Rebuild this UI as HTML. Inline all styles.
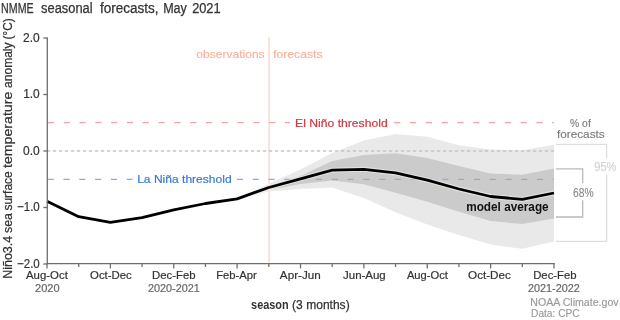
<!DOCTYPE html>
<html><head><meta charset="utf-8"><style>
html,body{margin:0;padding:0;background:#fff;width:620px;height:320px;overflow:hidden}
svg{display:block;will-change:transform}
text{font-family:"Liberation Sans", sans-serif}
</style></head><body>
<svg width="620" height="320" viewBox="0 0 620 320">
<rect width="620" height="320" fill="#fff"/>
<polygon points="237.12,198.90 268.81,183.80 300.50,169.50 332.19,153.00 363.88,140.50 395.56,134.00 427.25,136.70 458.94,145.20 490.62,149.50 522.31,150.30 554.00,144.70 554.00,241.60 522.31,248.80 490.62,244.60 458.94,235.00 427.25,224.50 395.56,212.30 363.88,198.00 332.19,187.60 300.50,189.00 268.81,191.60 237.12,198.90" fill="#e9e9e9"/>
<polygon points="237.12,198.90 268.81,185.60 300.50,176.00 332.19,161.00 363.88,155.00 395.56,153.20 427.25,158.00 458.94,166.10 490.62,173.60 522.31,174.70 554.00,168.50 554.00,218.40 522.31,224.00 490.62,221.00 458.94,211.80 427.25,201.80 395.56,192.80 363.88,184.25 332.19,180.50 300.50,184.00 268.81,189.80 237.12,198.90" fill="#cbcbcb"/>
<line x1="269" y1="37" x2="269" y2="263" stroke="#fde3dc" stroke-width="2"/>
<line x1="47.9" y1="122.5" x2="290" y2="122.5" stroke="#eda3a3" stroke-width="1.25" stroke-dasharray="6.2 9.6"/>
<line x1="394.2" y1="122.5" x2="554" y2="122.5" stroke="#eda3a3" stroke-width="1.25" stroke-dasharray="6.2 9.6"/>
<line x1="46.9" y1="151" x2="554" y2="151" stroke="#c4c4c4" stroke-width="1.4" stroke-dasharray="3.3 2.7"/>
<line x1="47.7" y1="179.4" x2="132.6" y2="179.4" stroke="#86acE0" stroke-width="1.25" stroke-dasharray="6.1 9.7"/>
<line x1="236.9" y1="179.4" x2="554" y2="179.4" stroke="#86acE0" stroke-width="1.25" stroke-dasharray="6.1 9.7"/>
<polyline points="47.00,201.20 78.69,216.70 110.38,222.40 142.06,217.70 173.75,209.80 205.44,203.50 237.12,198.90 268.81,187.50 300.50,178.90 332.19,170.20 363.88,169.30 395.56,172.90 427.25,180.20 458.94,189.00 490.62,196.50 522.31,199.40 554.00,193.00" fill="none" stroke="#fff" stroke-opacity="0.45" stroke-width="5" stroke-linejoin="round"/>
<polyline points="47.00,201.20 78.69,216.70 110.38,222.40 142.06,217.70 173.75,209.80 205.44,203.50 237.12,198.90 268.81,187.50 300.50,178.90 332.19,170.20 363.88,169.30 395.56,172.90 427.25,180.20 458.94,189.00 490.62,196.50 522.31,199.40 554.00,193.00" fill="none" stroke="#000" stroke-width="2.8" stroke-linejoin="round"/>
<g stroke="#6e6e6e" stroke-width="1.3">
<line x1="47.3" y1="37.5" x2="47.3" y2="264"/>
<line x1="46.7" y1="263.6" x2="554.6" y2="263.6"/>
<line x1="47.00" y1="263" x2="47.00" y2="268.5"/><line x1="78.69" y1="263" x2="78.69" y2="267.0"/><line x1="110.38" y1="263" x2="110.38" y2="268.5"/><line x1="142.06" y1="263" x2="142.06" y2="267.0"/><line x1="173.75" y1="263" x2="173.75" y2="268.5"/><line x1="205.44" y1="263" x2="205.44" y2="267.0"/><line x1="237.12" y1="263" x2="237.12" y2="268.5"/><line x1="268.81" y1="263" x2="268.81" y2="267.0"/><line x1="300.50" y1="263" x2="300.50" y2="268.5"/><line x1="332.19" y1="263" x2="332.19" y2="267.0"/><line x1="363.88" y1="263" x2="363.88" y2="268.5"/><line x1="395.56" y1="263" x2="395.56" y2="267.0"/><line x1="427.25" y1="263" x2="427.25" y2="268.5"/><line x1="458.94" y1="263" x2="458.94" y2="267.0"/><line x1="490.62" y1="263" x2="490.62" y2="268.5"/><line x1="522.31" y1="263" x2="522.31" y2="267.0"/><line x1="554.00" y1="263" x2="554.00" y2="268.5"/>
<line x1="43.3" y1="38.00" x2="47.5" y2="38.00"/><line x1="43.3" y1="94.50" x2="47.5" y2="94.50"/><line x1="43.3" y1="151.00" x2="47.5" y2="151.00"/><line x1="43.3" y1="207.50" x2="47.5" y2="207.50"/><line x1="43.3" y1="264.00" x2="47.5" y2="264.00"/>
</g>
<polyline points="556,144.4 606.6,144.4 606.6,158" fill="none" stroke="#dedede" stroke-width="1.3"/>
<polyline points="606.6,174.5 606.6,241.3 556,241.3" fill="none" stroke="#dedede" stroke-width="1.3"/>
<polyline points="556,168.8 582.7,168.8 582.7,183" fill="none" stroke="#b9b9b9" stroke-width="1.3"/>
<polyline points="582.7,200.3 582.7,217 556,217" fill="none" stroke="#b9b9b9" stroke-width="1.3"/>
<text x="1.12" y="13.2" font-size="14" font-weight="normal" fill="#333" stroke="#333" stroke-width="0.25" textLength="32.52" lengthAdjust="spacingAndGlyphs">NMME</text>
<text x="41.12" y="13.2" font-size="14" font-weight="normal" fill="#333" stroke="#333" stroke-width="0.25" textLength="51.50" lengthAdjust="spacingAndGlyphs">seasonal</text>
<text x="99.94" y="13.2" font-size="14" font-weight="normal" fill="#333" stroke="#333" stroke-width="0.25" textLength="58.66" lengthAdjust="spacingAndGlyphs">forecasts,</text>
<text x="163.14" y="13.2" font-size="14" font-weight="normal" fill="#333" stroke="#333" stroke-width="0.25" textLength="23.68" lengthAdjust="spacingAndGlyphs">May</text>
<text x="192.14" y="13.2" font-size="14" font-weight="normal" fill="#333" stroke="#333" stroke-width="0.25" textLength="28.50" lengthAdjust="spacingAndGlyphs">2021</text>
<text x="23.07" y="41.9" font-size="12.5" font-weight="normal" fill="#333" stroke="#333" stroke-width="0.2" textLength="16.69" lengthAdjust="spacingAndGlyphs">2.0</text>
<text x="23.14" y="97.9" font-size="12.5" font-weight="normal" fill="#333" stroke="#333" stroke-width="0.2" textLength="16.62" lengthAdjust="spacingAndGlyphs">1.0</text>
<text x="23.07" y="154.6" font-size="12.5" font-weight="normal" fill="#333" stroke="#333" stroke-width="0.2" textLength="16.69" lengthAdjust="spacingAndGlyphs">0.0</text>
<text x="17.02" y="210.9" font-size="12.5" font-weight="normal" fill="#333" stroke="#333" stroke-width="0.2" textLength="22.78" lengthAdjust="spacingAndGlyphs">−1.0</text>
<text x="17.02" y="267.9" font-size="12.5" font-weight="normal" fill="#333" stroke="#333" stroke-width="0.2" textLength="22.78" lengthAdjust="spacingAndGlyphs">−2.0</text>
<text x="26.00" y="279" font-size="11.3" font-weight="normal" fill="#333" stroke="#333" stroke-width="0.2" textLength="41.82" lengthAdjust="spacingAndGlyphs">Aug-Oct</text>
<text x="90.04" y="279" font-size="11.3" font-weight="normal" fill="#333" stroke="#333" stroke-width="0.2" textLength="41.72" lengthAdjust="spacingAndGlyphs">Oct-Dec</text>
<text x="152.12" y="279" font-size="11.3" font-weight="normal" fill="#333" stroke="#333" stroke-width="0.2" textLength="43.54" lengthAdjust="spacingAndGlyphs">Dec-Feb</text>
<text x="216.18" y="279" font-size="11.3" font-weight="normal" fill="#333" stroke="#333" stroke-width="0.2" textLength="40.66" lengthAdjust="spacingAndGlyphs">Feb-Apr</text>
<text x="279.86" y="279" font-size="11.3" font-weight="normal" fill="#333" stroke="#333" stroke-width="0.2" textLength="40.88" lengthAdjust="spacingAndGlyphs">Apr-Jun</text>
<text x="343.04" y="279" font-size="11.3" font-weight="normal" fill="#333" stroke="#333" stroke-width="0.2" textLength="42.70" lengthAdjust="spacingAndGlyphs">Jun-Aug</text>
<text x="406.92" y="279" font-size="11.3" font-weight="normal" fill="#333" stroke="#333" stroke-width="0.2" textLength="40.92" lengthAdjust="spacingAndGlyphs">Aug-Oct</text>
<text x="468.10" y="279" font-size="11.3" font-weight="normal" fill="#333" stroke="#333" stroke-width="0.2" textLength="42.72" lengthAdjust="spacingAndGlyphs">Oct-Dec</text>
<text x="533.20" y="279" font-size="11.3" font-weight="normal" fill="#333" stroke="#333" stroke-width="0.2" textLength="43.42" lengthAdjust="spacingAndGlyphs">Dec-Feb</text>
<text x="35.06" y="291.7" font-size="11.5" font-weight="normal" fill="#666" stroke="#666" stroke-width="0.2" textLength="24.60" lengthAdjust="spacingAndGlyphs">2020</text>
<text x="147.98" y="292.3" font-size="11.5" font-weight="normal" fill="#666" stroke="#666" stroke-width="0.2" textLength="51.78" lengthAdjust="spacingAndGlyphs">2020-2021</text>
<text x="528.04" y="292.3" font-size="11.5" font-weight="normal" fill="#666" stroke="#666" stroke-width="0.2" textLength="51.76" lengthAdjust="spacingAndGlyphs">2021-2022</text>
<text x="251.08" y="308.7" font-size="12.5" font-weight="bold" fill="#333" textLength="37.58" lengthAdjust="spacingAndGlyphs">season</text>
<text x="292.12" y="308.7" font-size="12.5" font-weight="normal" fill="#333" stroke="#333" stroke-width="0.25" textLength="57.54" lengthAdjust="spacingAndGlyphs">(3 months)</text>
<text x="530.22" y="306" font-size="10" font-weight="normal" fill="#999" stroke="#999" stroke-width="0.15" textLength="88.46" lengthAdjust="spacingAndGlyphs">NOAA Climate.gov</text>
<text x="531.06" y="317" font-size="10" font-weight="normal" fill="#999" stroke="#999" stroke-width="0.15" textLength="48.52" lengthAdjust="spacingAndGlyphs">Data: CPC</text>
<text x="196.22" y="58" font-size="11" font-weight="normal" fill="#fbb19a" stroke="#fbb19a" stroke-width="0.15" textLength="68.42" lengthAdjust="spacingAndGlyphs">observations</text>
<text x="273.10" y="58.1" font-size="11" font-weight="normal" fill="#fbb19a" stroke="#fbb19a" stroke-width="0.15" textLength="49.48" lengthAdjust="spacingAndGlyphs">forecasts</text>
<text x="295.12" y="126.5" font-size="11.5" font-weight="normal" fill="#d2363f" stroke="#d2363f" stroke-width="0.2" textLength="92.56" lengthAdjust="spacingAndGlyphs">El Niño threshold</text>
<text x="137.16" y="183.1" font-size="11.5" font-weight="normal" fill="#3a7bd0" stroke="#3a7bd0" stroke-width="0.2" textLength="94.50" lengthAdjust="spacingAndGlyphs">La Niña threshold</text>
<text x="569.98" y="126.8" font-size="11.5" font-weight="normal" fill="#777" stroke="#777" stroke-width="0.1" textLength="20.82" lengthAdjust="spacingAndGlyphs">% of</text>
<text x="556.96" y="138.4" font-size="11.5" font-weight="normal" fill="#777" stroke="#777" stroke-width="0.1" textLength="47.74" lengthAdjust="spacingAndGlyphs">forecasts</text>
<text x="466.16" y="210.6" font-size="12" font-weight="bold" fill="#111" textLength="82.52" lengthAdjust="spacingAndGlyphs">model average</text>
<text x="594.30" y="171.4" font-size="12" font-weight="normal" fill="#d0d0d0" stroke="#d0d0d0" stroke-width="0.1" textLength="22.16" lengthAdjust="spacingAndGlyphs">95%</text>
<text x="573.12" y="196.9" font-size="12" font-weight="normal" fill="#888" stroke="#888" stroke-width="0.1" textLength="20.56" lengthAdjust="spacingAndGlyphs">68%</text>
<text transform="translate(12,278.80) rotate(-90)" x="0" y="0" font-size="12.5" fill="#333" stroke="#333" stroke-width="0.25" textLength="43.00" lengthAdjust="spacingAndGlyphs">Niño3.4</text>
<text transform="translate(12,233.00) rotate(-90)" x="0" y="0" font-size="12.5" fill="#333" stroke="#333" stroke-width="0.25" textLength="19.90" lengthAdjust="spacingAndGlyphs">sea</text>
<text transform="translate(12,210.60) rotate(-90)" x="0" y="0" font-size="12.5" fill="#333" stroke="#333" stroke-width="0.25" textLength="39.35" lengthAdjust="spacingAndGlyphs">surface</text>
<text transform="translate(12,168.00) rotate(-90)" x="0" y="0" font-size="12.5" fill="#333" stroke="#333" stroke-width="0.25" textLength="76.30" lengthAdjust="spacingAndGlyphs">temperature</text>
<text transform="translate(12,87.90) rotate(-90)" x="0" y="0" font-size="12.5" fill="#333" stroke="#333" stroke-width="0.25" textLength="45.40" lengthAdjust="spacingAndGlyphs">anomaly</text>
<text transform="translate(12,39.40) rotate(-90)" x="0" y="0" font-size="12.5" fill="#333" stroke="#333" stroke-width="0.25" textLength="21.05" lengthAdjust="spacingAndGlyphs">(°C)</text>
</svg>
</body></html>
